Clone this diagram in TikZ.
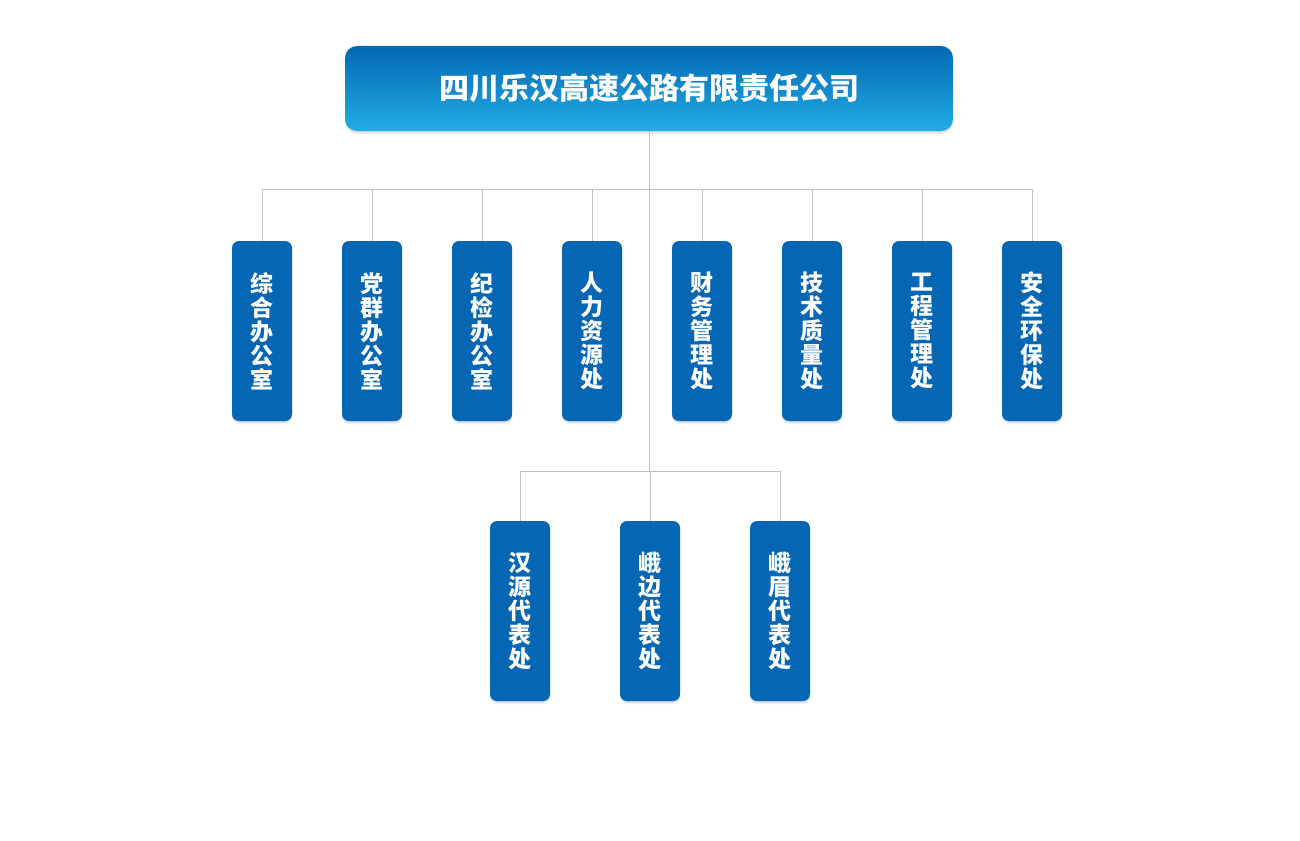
\documentclass[tikz,border=0pt]{standalone}
\usepackage{fontspec}
\newfontfamily\cjk{Noto Sans CJK SC}
\usetikzlibrary{shadows}
\definecolor{topA}{RGB}{3,104,180}
\definecolor{topB}{RGB}{34,172,228}
\definecolor{boxblue}{RGB}{5,102,180}
\definecolor{linegray}{RGB}{192,192,192}
\tikzset{
  conn/.style={draw=linegray, line width=1pt},
  softshadow/.style={
    drop shadow={shadow xshift=0pt, shadow yshift=-1.5pt, opacity=0.18},
    drop shadow={shadow xshift=0pt, shadow yshift=-3pt, opacity=0.12}},
  headbox/.style={rounded corners=12pt, top color=topA, bottom color=topB, draw=none,
    minimum width=608pt, minimum height=85pt, inner sep=0pt, text=white,
    font=\cjk\bfseries\fontsize{30}{33}\selectfont, softshadow},
  deptbox/.style={rounded corners=7pt, fill=boxblue, draw=none,
    minimum width=60pt, minimum height=180pt, inner sep=0pt, text=white, align=center,
    font=\cjk\bfseries\fontsize{23}{24}\selectfont, softshadow}
}
\begin{document}
\begin{tikzpicture}[x=1pt,y=-1pt]
\useasboundingbox (0,0) rectangle (1300,840);
% head
\node[headbox] (head) at (649,88.5) {四川乐汉高速公路有限责任公司};
% junction coordinates
\coordinate (j1) at (649,189);
\coordinate (j2) at (649,471);
\coordinate (l1) at (262,189);
\coordinate (r1) at (1032,189);
\coordinate (l2) at (520,471);
\coordinate (r2) at (780,471);
% department boxes
\node[deptbox] (d1) at (262,331) {综\\合\\办\\公\\室};
\node[deptbox] (d2) at (372,331) {党\\群\\办\\公\\室};
\node[deptbox] (d3) at (482,331) {纪\\检\\办\\公\\室};
\node[deptbox] (d4) at (592,331) {人\\力\\资\\源\\处};
\node[deptbox] (d5) at (702,331) {财\\务\\管\\理\\处};
\node[deptbox] (d6) at (812,331) {技\\术\\质\\量\\处};
\node[deptbox] (d7) at (922,331) {工\\程\\管\\理\\处};
\node[deptbox] (d8) at (1032,331) {安\\全\\环\\保\\处};
\node[deptbox] (e1) at (520,611) {汉\\源\\代\\表\\处};
\node[deptbox] (e2) at (650,611) {峨\\边\\代\\表\\处};
\node[deptbox] (e3) at (780,611) {峨\\眉\\代\\表\\处};
% connectors
\draw[conn] (head.south) -- (j2);
\draw[conn] (l1) -- (r1);
\draw[conn] (l2) -- (r2);
\foreach \n in {d1,d2,d3,d4,d5,d6,d7,d8}
  \draw[conn] (\n.north |- j1) -- (\n.north);
\foreach \n in {e1,e2,e3}
  \draw[conn] (\n.north |- j2) -- (\n.north);
\end{tikzpicture}
\end{document}
